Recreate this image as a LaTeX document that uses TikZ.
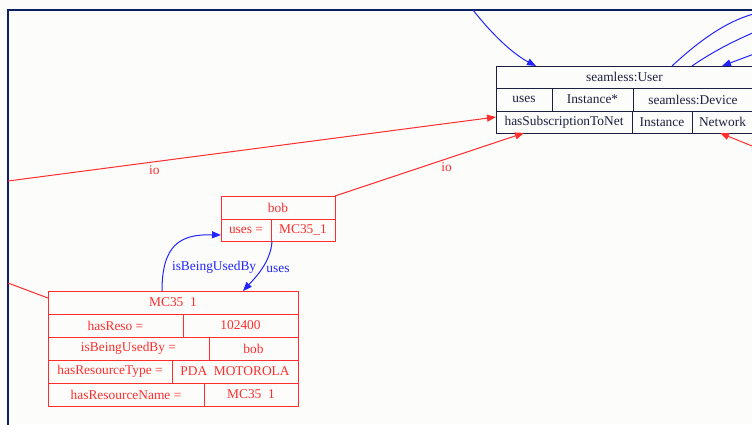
\documentclass[tikz,border=0pt]{standalone}
\usepackage{fontspec}
\setmainfont{Liberation Serif}
\usetikzlibrary{arrows.meta,positioning}

\definecolor{gvred}{RGB}{255,45,45}
\definecolor{gvblue}{RGB}{35,35,255}
\definecolor{gvnavy}{RGB}{10,32,96}
\definecolor{gvdark}{RGB}{30,30,64}
\definecolor{gvpaper}{RGB}{252,253,251}

\begin{document}
\begin{tikzpicture}[x=1pt,y=-1pt,->,>={Stealth[length=9pt,width=7pt,inset=0pt]},line width=1pt,
	cell/.style={draw,rectangle,anchor=north west,inner sep=0pt,outer sep=0pt,minimum height=23pt,font=\fontsize{13.4}{15}\selectfont},
	user cell/.style={cell,draw=gvdark,text=gvdark},
	res cell/.style={cell,draw=gvred,text=gvred},
	lbl/.style={font=\fontsize{13.4}{15}\selectfont}]

	\useasboundingbox (0,0) rectangle (752,424);
	\clip (0,0) rectangle (752,424);
	\fill[gvpaper] (0,0) rectangle (752,424);
	\draw[-,gvnavy,line width=2pt] (7.5,10) rectangle (800,500);

	% seamless:User
	\node[user cell, minimum width=257pt, minimum height=22pt] (user) at (496,66) {seamless:User};
	\node[user cell, minimum width=56pt] (uses) at (user.south west) {uses};
	\node[user cell, minimum width=81pt, right=0pt of uses] (inst) {Instance*};
	\node[user cell, minimum width=120pt, right=0pt of inst] (device) {seamless:Device};
	\node[user cell, minimum width=136pt, minimum height=22pt] (subnet) at (uses.south west) {hasSubscriptionToNet};
	\node[user cell, minimum width=60pt, minimum height=22pt, right=0pt of subnet] (inst2) {Instance};
	\node[user cell, minimum width=61pt, minimum height=22pt, right=0pt of inst2] (network) {Network};

	% bob
	\node[res cell, minimum width=114pt] (bob) at (221,196) {bob};
	\node[res cell, minimum width=50pt, minimum height=22pt] (bobuses) at (bob.south west) {uses =};
	\node[res cell, minimum width=64pt, minimum height=22pt, right=0pt of bobuses] (bobval) {MC35\_1};

	% MC35 1
	\node[res cell, minimum width=250pt] (mc) at (48,291) {MC35\ \ 1};
	\node[res cell, minimum width=135pt] (reso) at (mc.south west) {hasReso =};
	\node[res cell, minimum width=115pt, right=0pt of reso] (resoval) {102400};
	\node[res cell, minimum width=161pt] (used) at (reso.south west) {isBeingUsedBy =};
	\node[res cell, minimum width=89pt, right=0pt of used] (usedval) {bob};
	\node[res cell, minimum width=124pt] (rtype) at (used.south west) {hasResourceType =};
	\node[res cell, minimum width=126pt, right=0pt of rtype] (rtypeval) {PDA\ \ MOTOROLA};
	\node[res cell, minimum width=156pt] (rname) at (rtype.south west) {hasResourceName =};
	\node[res cell, minimum width=94pt, right=0pt of rname] (rnameval) {MC35\ \ 1};

	% loose ends at the frame
	\coordinate (topin) at (473,10);
	\coordinate (outa) at (762,12);
	\coordinate (outb) at (762,29);
	\coordinate (rightin) at (762,51);
	\coordinate (netin) at (762,150);
	\coordinate (leftio) at (8,181);
	\coordinate (leftmc) at (8,283);

	% blue links
	\draw[gvblue] (topin) .. controls (495,38) and (515,55) .. ([xshift=40pt]user.north west);
	\draw[-,gvblue] ([xshift=176pt]user.north west) .. controls (700,40) and (730,18) .. (outa);
	\draw[-,gvblue] ([xshift=196pt]user.north west) .. controls (715,50) and (740,38) .. (outb);
	\path[gvblue] (rightin) edge ([xshift=226pt]user.north west);
	\draw[gvblue] ([xshift=114pt]mc.north west) .. controls (162,245) and (180,234) .. ([yshift=-5pt]bobuses.west)
		node[lbl, pos=0.2, right=4pt] {isBeingUsedBy};
	\draw[gvblue] ([xshift=1pt]bobval.south west) .. controls (271,262) and (255,278) .. ([xshift=195pt]mc.north west)
		node[lbl, pos=0.5, right=1pt] {uses};

	% red links
	\path[gvred,every node/.style={lbl}]
	(leftio) edge node[pos=0.3, below] {io} ([yshift=5pt]subnet.west)
	(bob.north east) edge node[pos=0.59, below] {io} ([xshift=28pt]subnet.south west)
	(netin) edge ([xshift=28pt]network.south west)
	(leftmc) edge[-] ([yshift=4.5pt]mc.west);

\end{tikzpicture}
\end{document}
